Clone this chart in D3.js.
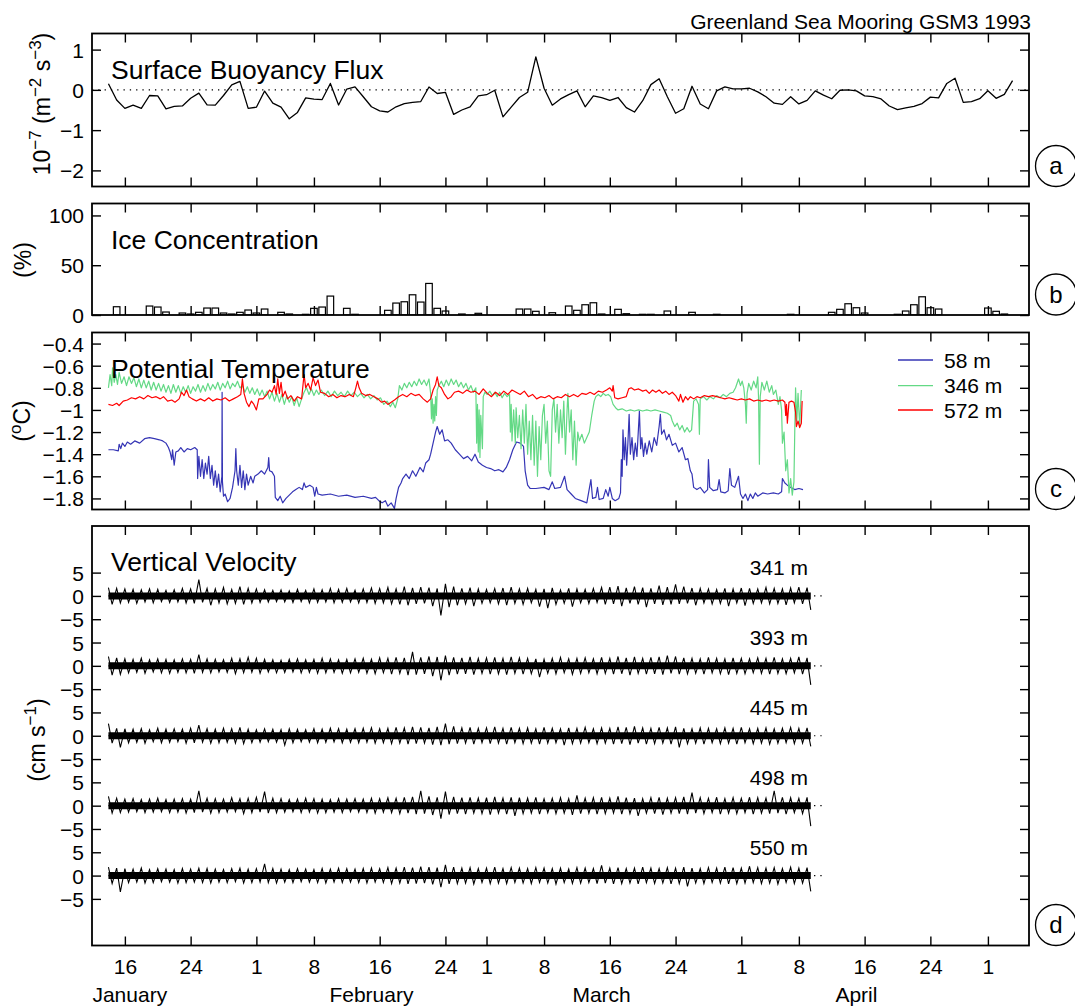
<!DOCTYPE html>
<html><head><meta charset="utf-8">
<script src="https://cdn.jsdelivr.net/npm/d3@7"></script>
<style>
body{margin:0;background:#fff}
svg{display:block}
text{font-family:"Liberation Sans",Arial,Helvetica,sans-serif;fill:#000}
</style>
</head><body>
<svg id="chart" width="1075" height="1007"></svg>
<script>
// ---------------- DATA ----------------
const xDomain = [12, 126]; // day of year 1993
const tickDays = [16, 24, 32, 39, 47, 55, 60, 67, 75, 83, 91, 98, 106, 114, 121];
const tickLabels = ["16","24","1","8","16","24","1","8","16","24","1","8","16","24","1"];
const monthNames = ["January", "February", "March", "April"];
const monthDays = [16.6, 46, 74, 105];

// (a) Surface buoyancy flux, daily, 10^-7 m^2 s^-3, starting day 14
const fluxStartDay = 14;
const buoyancyFlux = [0.15,-0.25,-0.46,-0.38,-0.46,-0.14,-0.15,-0.47,-0.41,-0.40,
 -0.21,-0.08,-0.375,-0.38,-0.14,0.125,0.21,-0.46,-0.43,-0.03,
 -0.33,-0.43,-0.72,-0.56,-0.20,-0.23,-0.24,0.16,-0.375,0.02,
 0.075,-0.17,-0.42,-0.52,-0.55,-0.42,-0.34,-0.31,-0.29,0.07,
 -0.09,-0.06,-0.61,-0.50,-0.42,-0.15,-0.12,-0.01,-0.67,-0.43,
 -0.19,-0.06,0.82,0.04,-0.38,-0.225,-0.12,-0.025,-0.42,-0.15,
 -0.19,-0.26,-0.19,-0.44,-0.55,-0.27,0.13,0.275,-0.17,-0.58,
 -0.47,0.09,-0.35,-0.47,-0.025,0.075,0.025,0.025,0.04,-0.05,
 -0.17,-0.33,-0.36,-0.17,-0.35,-0.26,-0.025,-0.13,-0.22,-0.01,
 0.0,-0.025,-0.15,-0.17,-0.225,-0.40,-0.49,-0.45,-0.41,-0.34,
 -0.18,-0.20,0.16,0.29,-0.31,-0.29,-0.22,-0.02,-0.21,-0.11,0.23];
const fluxTicks = [1, 0, -1, -2];

// (b) Ice concentration (%)
const iceDays = [15,19,20,21,23,24,25,26,27,28,29,30,31,32,33,35,36,38,39,40,
 41,43,44,48,49,50,51,52,53,54,55,57,59,64,65,66,68,70,71,72,
 73,74,76,77,79,80,82,85,88,97,102,103,104,105,106,110,111,112,113,114,
 115,121,122,123];
const iceValues = [8.3,9,8,3,2,1,2.7,7,7,2,1,2.7,5,2,6,2.7,1,0.7,6.7,8,
 19,6.7,0.7,4.7,12,13.3,20.3,13,31.7,6.7,4,1,1.7,6,6,3.7,2.3,9,4.7,10.3,
 12.3,1,5.7,1.3,0.7,0.7,4,2.7,0.7,0.7,2.7,5.7,11.3,7.3,2,0.7,4,10.3,18.3,7.3,
 6,7,3.7,1];
const iceTicks = [0, 50, 100];

// (c) Potential temperature (deg C), [day, value]
const temp58 = [[14.0,-1.36],[14.6,-1.36],[15.2,-1.37],[15.3,-1.31],[15.5,-1.35],[15.7,-1.30],[16.0,-1.33],[16.3,-1.29],[16.7,-1.31],[17.2,-1.28],[17.8,-1.30],[18.4,-1.26],[19.0,-1.25],[19.6,-1.26],[20.2,-1.27],[20.6,-1.28],[21.0,-1.30],[21.3,-1.34],[21.5,-1.38],[21.7,-1.45],[21.8,-1.36],[22.0,-1.50],[22.2,-1.38],[22.5,-1.37],[22.8,-1.34],[23.2,-1.38],[23.6,-1.35],[24.0,-1.36],[24.5,-1.34],[24.8,-1.36],[24.85,-1.62],[25.0,-1.42],[25.2,-1.60],[25.4,-1.45],[25.6,-1.62],[25.8,-1.48],[26.0,-1.58],[26.2,-1.42],[26.4,-1.62],[26.6,-1.50],[26.8,-1.68],[27.0,-1.55],[27.2,-1.70],[27.4,-1.58],[27.6,-1.74],[27.8,-1.60],[27.83,-0.84],[27.87,-1.65],[28.0,-1.78],[28.2,-1.76],[28.5,-1.83],[28.8,-1.80],[29.1,-1.70],[29.4,-1.55],[29.5,-1.35],[29.6,-1.55],[29.8,-1.68],[30.0,-1.50],[30.2,-1.70],[30.4,-1.55],[30.6,-1.72],[30.8,-1.58],[31.0,-1.68],[31.3,-1.60],[31.6,-1.66],[31.8,-1.60],[32.2,-1.58],[32.6,-1.55],[33.0,-1.58],[33.4,-1.52],[33.5,-1.43],[33.6,-1.55],[33.9,-1.56],[34.2,-1.60],[34.3,-1.79],[34.6,-1.82],[34.9,-1.78],[35.2,-1.84],[35.6,-1.80],[36.0,-1.77],[36.4,-1.74],[36.8,-1.72],[37.2,-1.70],[37.6,-1.72],[37.8,-1.66],[38.0,-1.70],[38.5,-1.68],[38.9,-1.70],[39.1,-1.78],[39.3,-1.70],[39.5,-1.76],[40.0,-1.77],[41.0,-1.76],[42.0,-1.78],[43.0,-1.77],[44.0,-1.79],[45.0,-1.78],[46.0,-1.80],[46.5,-1.79],[46.9,-1.82],[47.3,-1.84],[47.7,-1.82],[48.0,-1.87],[48.4,-1.84],[48.8,-1.89],[49.0,-1.80],[49.3,-1.70],[49.6,-1.66],[49.8,-1.62],[50.2,-1.58],[50.6,-1.62],[51.0,-1.55],[51.4,-1.60],[51.9,-1.52],[52.3,-1.56],[52.6,-1.48],[53.0,-1.45],[53.2,-1.40],[53.5,-1.30],[53.8,-1.20],[54.0,-1.15],[54.3,-1.22],[54.6,-1.18],[54.9,-1.28],[55.3,-1.27],[55.7,-1.30],[56.2,-1.36],[56.7,-1.40],[57.2,-1.44],[57.7,-1.42],[58.2,-1.46],[58.6,-1.40],[59.0,-1.47],[59.5,-1.50],[60.0,-1.52],[60.5,-1.53],[61.0,-1.55],[61.5,-1.54],[62.0,-1.56],[62.4,-1.52],[62.8,-1.45],[63.2,-1.36],[63.65,-1.29],[64.1,-1.30],[64.5,-1.33],[64.7,-1.55],[65.0,-1.68],[65.3,-1.71],[66.0,-1.71],[67.0,-1.70],[67.6,-1.72],[68.0,-1.65],[68.3,-1.71],[69.0,-1.70],[69.5,-1.60],[69.8,-1.72],[70.3,-1.76],[70.8,-1.80],[71.5,-1.82],[72.2,-1.84],[72.7,-1.63],[72.9,-1.80],[73.3,-1.79],[73.5,-1.70],[73.7,-1.81],[74.2,-1.80],[74.5,-1.72],[74.8,-1.78],[75.0,-1.70],[75.3,-1.80],[75.65,-1.82],[76.1,-1.80],[76.3,-1.75],[76.4,-1.45],[76.5,-1.60],[76.6,-1.18],[76.75,-1.45],[76.9,-1.25],[77.05,-1.50],[77.2,-1.30],[77.35,-1.04],[77.5,-1.40],[77.7,-1.25],[77.9,-1.45],[78.1,-1.30],[78.3,-1.42],[78.6,-1.01],[78.75,-1.35],[78.9,-1.25],[79.1,-1.42],[79.3,-1.30],[79.5,-1.40],[79.8,-1.28],[80.1,-1.38],[80.4,-1.25],[80.7,-1.32],[81.0,-1.15],[81.15,-1.04],[81.3,-1.22],[81.6,-1.18],[81.9,-1.27],[82.2,-1.22],[82.6,-1.32],[83.0,-1.30],[83.4,-1.38],[83.8,-1.34],[84.2,-1.45],[84.5,-1.44],[84.8,-1.55],[85.0,-1.58],[85.2,-1.70],[85.6,-1.72],[86.0,-1.70],[86.5,-1.75],[86.9,-1.72],[87.0,-1.45],[87.15,-1.70],[87.6,-1.73],[88.1,-1.72],[88.3,-1.63],[88.5,-1.74],[89.0,-1.75],[89.4,-1.73],[89.6,-1.53],[89.8,-1.68],[90.2,-1.70],[90.66,-1.60],[90.9,-1.76],[91.2,-1.80],[91.5,-1.76],[91.8,-1.82],[92.1,-1.76],[92.4,-1.80],[92.7,-1.75],[93.0,-1.78],[93.6,-1.75],[94.2,-1.76],[94.9,-1.75],[95.5,-1.76],[95.9,-1.74],[96.0,-1.62],[96.3,-1.66],[96.6,-1.68],[97.0,-1.70],[97.5,-1.72],[98.0,-1.71],[98.5,-1.72]];

const temp346 = [[14.0,-0.80],[14.2,-0.68],[14.4,-0.78],[14.5,-0.62],[14.7,-0.75],[14.9,-0.68],[15.1,-0.77],[15.3,-0.66],[15.6,-0.76],[15.9,-0.70],[16.2,-0.78],[16.5,-0.70],[16.8,-0.76],[17.1,-0.71],[17.4,-0.79],[17.7,-0.72],[18.0,-0.80],[18.3,-0.73],[18.6,-0.80],[18.9,-0.74],[19.2,-0.82],[19.5,-0.75],[19.8,-0.82],[20.1,-0.76],[20.4,-0.83],[20.7,-0.77],[21.0,-0.84],[21.3,-0.78],[21.6,-0.85],[21.9,-0.77],[22.2,-0.84],[22.5,-0.78],[22.8,-0.85],[23.1,-0.79],[23.4,-0.84],[23.7,-0.78],[24.0,-0.85],[24.3,-0.79],[24.6,-0.83],[24.9,-0.77],[25.2,-0.84],[25.5,-0.78],[25.8,-0.83],[26.1,-0.76],[26.4,-0.82],[26.7,-0.77],[27.0,-0.81],[27.3,-0.75],[27.6,-0.82],[27.9,-0.76],[28.2,-0.80],[28.5,-0.74],[28.8,-0.81],[29.1,-0.76],[29.4,-0.79],[29.7,-0.74],[30.0,-0.80],[30.3,-0.78],[30.6,-0.84],[30.9,-0.79],[31.2,-0.85],[31.5,-0.80],[31.8,-0.86],[32.1,-0.81],[32.4,-0.87],[32.7,-0.82],[33.0,-0.88],[33.3,-0.83],[33.6,-0.90],[33.9,-0.84],[34.2,-0.92],[34.5,-0.85],[34.8,-0.93],[35.1,-0.86],[35.4,-0.95],[35.7,-0.87],[36.0,-0.93],[36.3,-0.88],[36.6,-0.96],[36.9,-0.89],[37.2,-0.97],[37.5,-0.90],[37.8,-0.84],[38.1,-0.80],[38.4,-0.86],[38.7,-0.81],[39.0,-0.87],[39.3,-0.82],[39.6,-0.86],[39.9,-0.82],[40.3,-0.87],[40.7,-0.83],[41.1,-0.88],[41.5,-0.83],[41.9,-0.87],[42.3,-0.84],[42.7,-0.88],[43.1,-0.83],[43.5,-0.87],[43.9,-0.84],[44.3,-0.88],[44.7,-0.85],[45.1,-0.89],[45.5,-0.86],[45.9,-0.90],[46.3,-0.87],[46.7,-0.91],[47.1,-0.89],[47.5,-0.95],[47.9,-0.92],[48.3,-0.97],[48.6,-0.93],[48.9,-0.98],[49.2,-0.90],[49.4,-0.78],[49.7,-0.82],[50.0,-0.76],[50.3,-0.80],[50.6,-0.75],[50.9,-0.79],[51.2,-0.74],[51.5,-0.78],[51.8,-0.72],[52.1,-0.77],[52.4,-0.73],[52.7,-0.78],[53.0,-0.72],[53.2,-0.85],[53.3,-1.08],[53.4,-0.90],[53.5,-1.12],[53.6,-0.95],[53.7,-1.10],[53.8,-0.88],[53.9,-1.05],[54.0,-0.82],[54.2,-0.78],[54.5,-0.74],[54.8,-0.79],[55.1,-0.73],[55.4,-0.78],[55.7,-0.72],[56.0,-0.77],[56.3,-0.73],[56.6,-0.79],[56.9,-0.75],[57.2,-0.80],[57.5,-0.76],[57.8,-0.82],[58.1,-0.78],[58.4,-0.84],[58.7,-0.80],[58.8,-1.30],[58.9,-0.95],[59.0,-1.38],[59.1,-1.00],[59.2,-1.43],[59.3,-1.05],[59.5,-1.35],[59.6,-0.88],[59.8,-0.84],[60.1,-0.86],[60.4,-0.83],[60.7,-0.87],[61.0,-0.84],[61.3,-0.88],[61.6,-0.84],[61.9,-0.89],[62.2,-0.85],[62.5,-0.88],[62.8,-0.86],[62.9,-1.20],[63.0,-0.95],[63.1,-1.28],[63.3,-1.00],[63.5,-1.30],[63.6,-0.98],[63.8,-1.25],[64.0,-1.05],[64.2,-1.35],[64.4,-1.00],[64.6,-1.30],[64.8,-0.95],[65.0,-1.40],[65.2,-1.10],[65.4,-1.45],[65.6,-1.05],[65.8,-1.50],[66.0,-1.10],[66.2,-1.60],[66.4,-1.15],[66.6,-1.45],[66.8,-1.05],[67.0,-0.95],[67.2,-1.30],[67.4,-1.10],[67.6,-1.55],[67.8,-1.60],[68.0,-1.00],[68.2,-0.90],[68.4,-1.20],[68.6,-0.95],[68.8,-1.30],[69.0,-1.00],[69.2,-1.25],[69.4,-0.92],[69.6,-1.40],[69.8,-1.00],[69.9,-0.85],[70.1,-1.20],[70.3,-1.00],[70.5,-1.45],[70.7,-1.10],[70.9,-1.50],[71.1,-1.20],[71.3,-1.28],[71.6,-1.22],[71.9,-1.30],[72.2,-1.25],[72.5,-1.20],[72.8,-1.05],[73.1,-0.92],[73.3,-0.88],[73.6,-0.86],[73.9,-0.88],[74.2,-0.85],[74.5,-0.87],[74.8,-0.86],[75.1,-0.88],[75.4,-0.95],[75.7,-0.98],[76.0,-1.00],[76.5,-0.99],[77.0,-1.01],[77.5,-1.00],[78.0,-1.01],[78.5,-1.00],[79.0,-1.01],[79.5,-1.00],[80.0,-1.01],[80.5,-1.00],[81.0,-1.01],[81.5,-1.02],[82.0,-1.03],[82.4,-1.05],[82.6,-1.10],[82.9,-1.15],[83.2,-1.12],[83.5,-1.18],[83.8,-1.14],[84.1,-1.20],[84.4,-1.16],[84.7,-1.20],[84.95,-1.18],[85.2,-0.92],[85.5,-0.90],[85.8,-0.95],[85.9,-1.22],[86.0,-0.90],[86.4,-0.88],[86.8,-0.91],[87.2,-0.88],[87.6,-0.90],[88.0,-0.87],[88.4,-0.89],[88.8,-0.86],[89.2,-0.88],[89.6,-0.85],[90.0,-0.84],[90.3,-0.80],[90.66,-0.72],[90.9,-0.78],[91.1,-0.74],[91.3,-0.80],[91.5,-0.95],[91.6,-1.12],[91.7,-0.85],[91.9,-0.76],[92.2,-0.82],[92.5,-0.74],[92.8,-0.80],[93.0,-0.70],[93.1,-0.90],[93.2,-1.49],[93.3,-0.88],[93.5,-0.75],[93.8,-0.82],[94.1,-0.74],[94.4,-0.84],[94.7,-0.78],[94.9,-0.86],[95.2,-0.82],[95.5,-0.95],[95.7,-0.88],[95.9,-1.00],[96.0,-1.30],[96.2,-1.20],[96.4,-1.55],[96.6,-1.45],[96.8,-1.75],[97.0,-1.62],[97.2,-1.77],[97.4,-1.65],[97.5,-1.20],[97.6,-0.80],[97.75,-1.10],[97.9,-0.85],[98.1,-1.15],[98.3,-0.82]];

const temp572 = [[14.0,-0.95],[14.5,-0.96],[15.0,-0.94],[15.3,-0.96],[15.8,-0.92],[16.3,-0.91],[16.8,-0.89],[17.3,-0.90],[17.8,-0.88],[18.3,-0.90],[18.8,-0.87],[19.3,-0.89],[19.8,-0.88],[20.3,-0.90],[20.7,-0.88],[21.2,-0.92],[21.7,-0.91],[22.1,-0.93],[22.6,-0.90],[22.9,-0.84],[23.2,-0.87],[23.5,-0.82],[23.8,-0.88],[24.2,-0.90],[24.7,-0.92],[25.2,-0.90],[25.7,-0.92],[26.2,-0.89],[26.7,-0.92],[27.2,-0.90],[27.7,-0.91],[28.2,-0.89],[28.7,-0.92],[29.2,-0.90],[29.7,-0.88],[30.1,-0.86],[30.3,-0.72],[30.5,-0.85],[30.8,-0.93],[31.1,-0.97],[31.4,-0.92],[31.7,-0.95],[32.0,-1.00],[32.3,-0.90],[32.8,-0.90],[33.3,-0.86],[33.6,-0.82],[33.9,-0.84],[34.2,-0.78],[34.4,-0.86],[34.6,-0.72],[34.8,-0.85],[35.0,-0.75],[35.2,-0.88],[35.5,-0.83],[35.8,-0.90],[36.2,-0.87],[36.6,-0.92],[37.0,-0.88],[37.5,-0.90],[37.8,-0.68],[38.0,-0.80],[38.3,-0.76],[38.6,-0.82],[38.9,-0.71],[39.2,-0.78],[39.5,-0.73],[39.8,-0.84],[40.3,-0.85],[40.8,-0.88],[41.3,-0.86],[41.8,-0.89],[42.3,-0.87],[42.8,-0.88],[43.3,-0.86],[43.8,-0.88],[44.1,-0.80],[44.3,-0.74],[44.5,-0.80],[44.8,-0.85],[45.3,-0.87],[45.8,-0.86],[46.3,-0.88],[46.8,-0.90],[47.2,-0.93],[47.6,-0.92],[48.0,-0.95],[48.4,-0.93],[48.8,-0.91],[49.3,-0.88],[49.8,-0.86],[50.3,-0.88],[50.8,-0.85],[51.3,-0.87],[51.8,-0.86],[52.3,-0.90],[52.8,-0.93],[53.2,-0.90],[53.5,-0.82],[53.8,-0.77],[54.0,-0.70],[54.2,-0.78],[54.5,-0.80],[54.9,-0.86],[55.3,-0.90],[55.7,-0.88],[56.1,-0.84],[56.6,-0.83],[57.1,-0.85],[57.6,-0.82],[58.1,-0.84],[58.6,-0.83],[59.1,-0.86],[59.6,-0.81],[60.1,-0.85],[60.6,-0.88],[61.1,-0.84],[61.6,-0.87],[62.1,-0.83],[62.6,-0.86],[63.1,-0.82],[63.6,-0.84],[64.1,-0.86],[64.6,-0.83],[65.1,-0.88],[65.6,-0.86],[66.1,-0.90],[66.6,-0.88],[67.1,-0.89],[67.6,-0.87],[68.1,-0.90],[68.6,-0.88],[69.1,-0.89],[69.6,-0.86],[70.1,-0.88],[70.6,-0.86],[71.1,-0.88],[71.6,-0.85],[72.1,-0.86],[72.6,-0.84],[73.1,-0.86],[73.6,-0.83],[74.1,-0.84],[74.6,-0.82],[75.0,-0.80],[75.3,-0.83],[75.4,-0.78],[75.6,-0.89],[76.0,-0.90],[76.5,-0.89],[77.0,-0.88],[77.3,-0.81],[77.6,-0.80],[78.0,-0.82],[78.5,-0.81],[79.0,-0.83],[79.4,-0.82],[79.8,-0.85],[80.2,-0.82],[80.6,-0.84],[81.0,-0.82],[81.4,-0.85],[81.8,-0.83],[82.2,-0.86],[82.6,-0.84],[83.0,-0.87],[83.4,-0.92],[83.6,-0.86],[83.9,-0.93],[84.2,-0.88],[84.5,-0.91],[84.8,-0.88],[85.2,-0.90],[85.6,-0.88],[86.0,-0.89],[86.5,-0.87],[87.0,-0.88],[87.5,-0.87],[88.0,-0.88],[88.5,-0.89],[89.0,-0.90],[89.5,-0.89],[90.0,-0.90],[90.5,-0.91],[91.0,-0.90],[91.5,-0.91],[92.0,-0.90],[92.5,-0.92],[93.0,-0.91],[93.5,-0.92],[94.0,-0.91],[94.5,-0.92],[95.0,-0.91],[95.5,-0.92],[96.0,-0.91],[96.3,-0.93],[96.4,-1.05],[96.5,-0.95],[96.6,-1.12],[96.8,-0.93],[97.1,-0.92],[97.4,-0.93],[97.6,-1.02],[97.7,-1.15],[97.9,-1.10],[98.1,-1.16],[98.3,-1.12],[98.4,-0.92]];
const tempNames = ["58 m", "346 m", "572 m"];
const tempColors = ["#3535b5", "#63d985", "#ff0000"];
const tempTicks = [-0.4, -0.6, -0.8, -1, -1.2, -1.4, -1.6, -1.8];

// (d) Vertical velocity (cm/s): daily max / min, days 14..99
const wStartDay = 14;
const wDepths = ["341 m", "393 m", "445 m", "498 m", "550 m"];
const wOffsets = [0, -15, -30, -45, -60];
const wTickRel = [5, 0, -5];
const wCoreHalfWidth = [0.75, 0.75, 0.75, 0.75, 0.75]; // dense core of the trace
const w341Max = [1.8,1.6,1.5,1.4,1.3,1.5,1.4,1.2,1.3,1.6, 1.5,3.5,1.6,1.5,1.8,1.4,2.0,1.6,1.5,1.3, 1.2,1.3,1.1,1.4,1.2,1.5,1.3,1.6,1.4,1.6, 1.2,1.5,1.7,1.6,1.8,1.5,2.0,1.7,1.9,1.8, 1.6,2.6,2.0,1.6,1.8,1.5,1.4,1.6,1.7,1.9, 1.5,1.6,1.4,1.5,1.7,1.3,1.6,1.5,1.4,1.6, 1.8,1.9,2.1,1.7,2.0,1.8,1.6,2.2,1.9,2.5, 2.0,1.7,1.6,1.5,1.4,1.6,1.5,1.7,1.6,1.5, 1.8,1.6,1.5,1.7,1.9,1.8];
const w341Min = [-1.8,-1.5,-1.4,-1.6,-1.3,-1.5,-1.2,-1.4,-1.3,-1.5, -1.6,-1.4,-2.0,-1.5,-1.7,-1.6,-1.8,-1.5,-1.4,-1.3, -1.2,-1.3,-1.4,-1.2,-1.5,-1.4,-1.3,-1.5,-1.4,-1.3, -1.5,-1.4,-1.6,-1.5,-1.7,-1.8,-2.0,-1.7,-1.6,-2.2, -4.2,-2.4,-2.0,-1.7,-2.2,-1.6,-1.5,-1.7,-2.0,-1.6, -1.8,-1.5,-2.3,-2.6,-1.8,-1.6,-2.3,-1.5,-1.6,-1.4, -1.8,-1.7,-2.2,-1.6,-1.8,-2.4,-1.7,-1.9,-1.8,-1.7, -1.6,-2.0,-1.5,-1.7,-1.6,-2.2,-1.5,-2.1,-1.6,-1.5, -1.7,-1.6,-1.9,-1.5,-1.7,-3.0];
const w393Max = [2.0,1.7,1.5,1.4,1.6,1.3,1.5,1.4,1.3,1.5, 1.4,2.4,1.5,1.4,1.3,1.6,1.5,1.8,1.6,1.4, 1.3,1.2,1.4,1.5,1.3,1.4,1.6,1.5,1.3,1.4, 1.5,1.6,1.4,1.7,1.6,1.8,1.7,3.0,1.8,2.0, 1.9,2.2,1.8,1.7,1.9,1.6,1.7,1.8,1.6,1.9, 1.7,1.6,1.5,1.4,1.6,1.8,1.5,1.6,1.7,1.5, 1.8,1.6,2.0,1.7,1.9,1.6,1.8,1.9,2.2,2.0, 1.7,1.6,1.5,1.8,1.6,1.5,1.7,1.6,1.5,1.7, 1.6,1.8,1.5,1.6,1.9,1.7];
const w393Min = [-2.0,-1.8,-1.5,-1.4,-1.6,-1.3,-1.5,-1.6,-1.4,-1.5, -1.6,-1.4,-1.5,-1.3,-1.4,-1.7,-1.5,-1.4,-1.6,-1.3, -1.5,-1.4,-1.3,-1.5,-1.4,-1.6,-1.5,-1.4,-1.6,-1.5, -1.4,-1.6,-1.7,-1.5,-1.8,-1.6,-2.0,-1.9,-1.7,-2.2, -3.1,-2.0,-1.8,-1.7,-1.9,-1.6,-1.8,-1.7,-1.9,-1.6, -1.8,-1.7,-2.4,-1.6,-1.7,-1.5,-1.8,-1.6,-1.5,-1.7, -1.6,-1.8,-1.7,-2.0,-1.6,-1.8,-1.7,-1.9,-1.6,-1.8, -1.7,-1.6,-1.8,-1.5,-1.7,-1.9,-1.6,-1.7,-1.5,-1.6, -1.8,-1.6,-1.7,-1.5,-1.8,-4.1];
const w445Max = [2.6,1.6,1.5,1.4,1.5,1.3,1.6,1.4,1.5,1.4, 1.6,2.3,1.5,1.4,1.6,1.5,1.8,1.4,1.3,1.5, 1.4,1.3,1.5,1.4,1.3,1.5,1.4,1.6,1.5,1.4, 1.5,1.6,1.7,1.5,1.6,1.8,1.7,1.9,1.8,1.7, 1.9,2.6,2.0,1.7,1.8,1.6,1.7,1.9,1.6,1.8, 1.6,1.7,1.5,1.8,1.6,1.5,1.7,1.6,1.8,1.5, 1.7,1.6,1.9,1.8,2.0,1.7,1.6,1.8,1.7,1.9, 1.6,1.5,1.7,1.6,1.5,1.7,1.6,1.8,1.5,1.6, 1.7,1.5,1.6,1.8,1.6,1.7];
const w445Min = [-1.6,-2.5,-1.5,-1.4,-1.6,-1.3,-1.5,-1.4,-1.3,-1.6, -1.5,-1.4,-1.6,-1.5,-1.4,-1.6,-1.7,-1.5,-1.4,-1.3, -1.4,-2.0,-1.5,-1.3,-1.4,-1.5,-1.4,-1.3,-1.5,-1.4, -1.5,-1.4,-1.6,-1.5,-1.7,-1.6,-1.8,-1.7,-1.6,-1.9, -2.0,-1.8,-1.7,-1.6,-1.8,-1.5,-1.7,-1.6,-1.8,-1.5, -1.7,-1.6,-1.8,-1.6,-1.5,-2.0,-1.7,-1.6,-1.5,-1.7, -1.6,-1.8,-1.7,-1.9,-1.6,-1.8,-1.7,-1.6,-1.8,-2.5, -1.7,-1.6,-1.8,-1.5,-1.7,-1.6,-1.8,-1.5,-1.7,-1.6, -1.8,-1.6,-1.5,-1.7,-1.6,-2.3];
const w498Max = [2.0,1.6,1.4,1.5,1.3,1.4,1.6,1.3,1.4,1.5, 1.4,3.2,1.6,1.5,1.4,1.7,1.5,1.6,1.8,3.0, 1.6,1.5,1.3,1.4,1.6,1.5,1.4,1.3,1.5,1.4, 1.5,1.4,1.6,1.5,1.7,1.6,1.8,1.9,3.2,2.0, 1.8,3.0,1.9,1.7,1.8,1.6,1.7,1.9,1.6,1.8, 1.7,1.6,1.8,1.5,1.6,1.7,1.5,2.2,1.6,1.7, 1.8,1.6,2.0,1.7,1.6,1.5,1.7,1.8,1.6,1.7, 1.9,2.8,1.7,1.6,1.8,1.5,1.7,1.6,1.8,1.7, 1.6,3.2,1.8,1.7,1.6,1.8];
const w498Min = [-1.6,-1.5,-1.4,-1.3,-1.5,-1.4,-1.3,-1.5,-1.4,-1.6, -1.5,-1.4,-1.6,-1.5,-1.4,-1.3,-1.7,-1.5,-1.4,-1.6, -1.5,-1.4,-1.3,-1.5,-1.4,-1.6,-1.5,-1.4,-1.5,-1.3, -1.4,-1.5,-1.6,-1.4,-1.5,-1.7,-1.6,-1.8,-1.7,-2.0, -2.8,-1.9,-1.7,-1.8,-1.6,-1.7,-1.9,-1.6,-1.8,-2.2, -1.7,-1.6,-1.8,-1.5,-1.7,-1.6,-2.0,-1.7,-1.6,-1.8, -1.7,-1.6,-1.8,-1.7,-2.2,-1.6,-1.7,-1.9,-1.6,-1.7, -1.8,-1.6,-1.7,-1.5,-1.8,-1.6,-1.7,-1.5,-1.8,-1.6, -1.7,-1.6,-1.8,-1.5,-1.7,-4.4];
const w550Max = [1.8,1.6,1.5,1.4,1.6,1.3,1.5,1.4,1.3,1.5, 1.4,1.6,1.5,1.4,1.3,1.5,1.6,1.4,1.5,2.5, 1.5,1.4,1.3,1.5,1.4,1.3,1.5,1.4,1.6,1.5, 1.4,1.5,1.6,1.5,1.7,1.6,1.8,1.7,1.9,1.8, 1.7,2.3,1.8,1.6,1.7,1.5,1.6,1.8,1.5,1.7, 1.6,1.5,1.7,1.6,1.5,1.6,1.4,1.7,1.6,1.5, 2.2,1.6,1.7,1.5,1.6,1.8,1.6,1.5,1.7,1.6, 1.8,1.6,1.5,1.7,1.6,1.8,1.7,1.6,2.0,1.7, 1.6,1.7,1.5,1.8,1.6,1.7];
const w550Min = [-1.7,-3.5,-1.5,-1.4,-1.6,-1.5,-1.3,-1.4,-1.6,-1.5, -1.4,-1.5,-1.6,-1.4,-1.5,-1.3,-1.6,-1.5,-1.4,-1.5, -1.6,-1.4,-1.5,-1.3,-1.4,-1.5,-1.6,-1.4,-1.5,-1.4, -1.5,-1.6,-1.4,-1.5,-1.7,-1.6,-1.8,-1.7,-1.6,-1.9, -2.5,-1.8,-1.7,-1.6,-1.8,-1.5,-1.7,-1.6,-1.7,-1.5, -1.6,-1.7,-1.5,-1.6,-1.8,-1.5,-1.7,-1.6,-1.5,-1.7, -1.6,-1.8,-1.7,-1.6,-1.8,-1.5,-1.7,-1.6,-1.8,-1.7, -2.3,-1.6,-1.7,-1.5,-1.6,-1.8,-1.7,-1.6,-1.5,-1.7, -1.6,-1.8,-1.5,-1.7,-1.6,-3.4];
const wZeroLineEnd = 101;

// ---------------- DRAWING ----------------
const svg = d3.select("#chart");
const X0 = 92, X1 = 1029;
const x = d3.scaleLinear().domain(xDomain).range([X0, X1]);
const minusFmt = v => (v < 0 ? "\u2212" : "") + String(Math.abs(+v.toFixed(2)));
const TICK = 9;
const FONT = '"Liberation Sans", Arial, Helvetica, sans-serif';

const panels = [
  {key:"a", top:33.5, bottom:186.5, domain:[-2.4, 1.4], ticks:fluxTicks, fmt:minusFmt, title:"Surface Buoyancy Flux"},
  {key:"b", top:203.5, bottom:315, domain:[0, 112], ticks:iceTicks, fmt:minusFmt, title:"Ice Concentration"},
  {key:"c", top:332.5, bottom:509.5, domain:[-1.9, -0.3], ticks:tempTicks, fmt:minusFmt, title:"Potential Temperature"},
  {key:"d", top:526, bottom:945.5, domain:[-75, 15],
   ticks: wOffsets.flatMap(o => wTickRel.map(r => o + r)),
   fmt: v => minusFmt(v - Math.round(v / 15) * 15), title:"Vertical Velocity"}
];
panels.forEach(p => { p.y = d3.scaleLinear().domain(p.domain).range([p.bottom, p.top]); });

function drawFrame(p, isLast) {
  const g = svg.append("g");
  const la = g.append("g").attr("transform", `translate(${X0},0)`)
    .call(d3.axisLeft(p.y).tickValues(p.ticks).tickFormat(p.fmt).tickSizeInner(-TICK).tickSizeOuter(0).tickPadding(8));
  const ra = g.append("g").attr("transform", `translate(${X1},0)`)
    .call(d3.axisRight(p.y).tickValues(p.ticks).tickFormat("").tickSizeInner(-TICK).tickSizeOuter(0));
  const ta = g.append("g").attr("transform", `translate(0,${p.top})`)
    .call(d3.axisTop(x).tickValues(tickDays).tickFormat("").tickSizeInner(-TICK).tickSizeOuter(0));
  const ba = g.append("g").attr("transform", `translate(0,${p.bottom})`)
    .call(d3.axisBottom(x).tickValues(tickDays).tickFormat((d, i) => isLast ? tickLabels[i] : "")
      .tickSizeInner(-TICK).tickSizeOuter(0).tickPadding(0));
  [la, ra, ta, ba].forEach(a => {
    a.select(".domain").remove();
    a.selectAll(".tick line").attr("stroke", "#000").attr("stroke-width", 1.4);
    a.selectAll("text").attr("font-size", 21).attr("fill", "#000").style("font-family", FONT);
  });
  la.selectAll("text").attr("x", -8).attr("dy", null).attr("y", 7.5);
  ba.selectAll("text").attr("dy", null).attr("y", 974 - p.bottom);
  g.append("rect").attr("x", X0).attr("y", p.top).attr("width", X1 - X0).attr("height", p.bottom - p.top)
    .attr("fill", "none").attr("stroke", "#000").attr("stroke-width", 1.8);
  g.append("text").attr("x", 111).attr("y", p.top + 45).attr("font-size", 26.5).text(p.title);
  const cy = p.bottom - 20.5;
  g.append("circle").attr("cx", 1056).attr("cy", cy).attr("r", 20.5)
    .attr("fill", "#fff").attr("stroke", "#000").attr("stroke-width", 1.3);
  g.append("text").attr("x", 1056).attr("y", cy + 8).attr("font-size", 24)
    .attr("text-anchor", "middle").text(p.key);
}

const defs = svg.append("defs");
panels.forEach(p => {
  defs.append("clipPath").attr("id", "clip-" + p.key)
    .append("rect").attr("x", X0).attr("y", p.top).attr("width", X1 - X0).attr("height", p.bottom - p.top);
});

// ---- panel a ----
{
  const p = panels[0];
  const g = svg.append("g").attr("clip-path", "url(#clip-a)");
  g.append("line").attr("x1", X0).attr("x2", X1).attr("y1", p.y(0)).attr("y2", p.y(0))
    .attr("stroke", "#000").attr("stroke-width", 1.2).attr("stroke-dasharray", "1.3,5");
  const line = d3.line().x((d, i) => x(fluxStartDay + i)).y(d => p.y(d));
  g.append("path").datum(buoyancyFlux).attr("d", line)
    .attr("fill", "none").attr("stroke", "#000").attr("stroke-width", 1.3).attr("stroke-linejoin", "round");
}

// ---- panel b ----
{
  const p = panels[1];
  const g = svg.append("g").attr("clip-path", "url(#clip-b)");
  const bw = 0.8;
  g.selectAll("rect.bar").data(iceDays.map((d, i) => ({d, v: iceValues[i]}))).join("rect")
    .attr("class", "bar")
    .attr("x", o => x(o.d - bw / 2)).attr("width", x(bw) - x(0))
    .attr("y", o => p.y(o.v)).attr("height", o => p.y(0) - p.y(o.v))
    .attr("fill", "#fff").attr("stroke", "#000").attr("stroke-width", 1.2);
}

// ---- panel c ----
{
  const p = panels[2];
  const g = svg.append("g").attr("clip-path", "url(#clip-c)");
  const line = d3.line().x(d => x(d[0])).y(d => p.y(d[1]));
  [temp58, temp346, temp572].forEach((s, i) => {
    g.append("path").datum(s).attr("d", line).attr("fill", "none")
      .attr("stroke", tempColors[i]).attr("stroke-width", 1.2).attr("stroke-linejoin", "round");
  });
  const rows = [360, 385.7, 410];
  tempNames.forEach((n, i) => {
    svg.append("line").attr("x1", 898).attr("x2", 933).attr("y1", rows[i]).attr("y2", rows[i])
      .attr("stroke", tempColors[i]).attr("stroke-width", 1.3);
    svg.append("text").attr("x", 944).attr("y", rows[i] + 7.5).attr("font-size", 21).text(n);
  });
}

// ---- panel d ----
{
  const p = panels[3];
  const g = svg.append("g").attr("clip-path", "url(#clip-d)");
  const maxes = [w341Max, w393Max, w445Max, w498Max, w550Max];
  const mins = [w341Min, w393Min, w445Min, w498Min, w550Min];
  wOffsets.forEach((off, k) => {
    const n = maxes[k].length;
    g.append("line").attr("x1", x(wStartDay)).attr("x2", x(wZeroLineEnd))
      .attr("y1", p.y(off)).attr("y2", p.y(off))
      .attr("stroke", "#000").attr("stroke-width", 1.2).attr("stroke-dasharray", "1.3,5");
    // dense core of the trace
    const c = wCoreHalfWidth[k];
    g.append("path").datum([[wStartDay, off], [wStartDay + n - 1 + 0.45, off]])
      .attr("d", d3.area().x(d => x(d[0])).y0(d => p.y(d[1] - c)).y1(d => p.y(d[1] + c)))
      .attr("fill", "#000");
    const pts = [];
    maxes[k].forEach((mx, i) => {
      pts.push([wStartDay + i, mx + off]);
      pts.push([wStartDay + i + 0.45, mins[k][i] + off]);
    });
    g.append("path").datum(pts)
      .attr("d", d3.line().x(d => x(d[0])).y(d => p.y(d[1])))
      .attr("fill", "none").attr("stroke", "#000").attr("stroke-width", 1.1).attr("stroke-linejoin", "miter");
    svg.append("text").attr("x", 808).attr("y", p.y(off + 6) + 7.5)
      .attr("font-size", 21).attr("text-anchor", "end").text(wDepths[k]);
  });
}

panels.forEach((p, i) => drawFrame(p, i === panels.length - 1));

monthNames.forEach((m, i) => {
  svg.append("text").attr("x", x(monthDays[i])).attr("y", 1001.7)
    .attr("font-size", 21).attr("text-anchor", "middle").text(m);
});

svg.append("text").attr("x", 1031).attr("y", 29.3).attr("font-size", 21)
  .attr("text-anchor", "end").text("Greenland Sea Mooring GSM3 1993");

// rotated y-axis labels with superscripts
function ylab(xp, yp, parts) {
  const t = svg.append("text").attr("transform", `translate(${xp},${yp}) rotate(-90)`)
    .attr("text-anchor", "middle").attr("font-size", 23);
  let up = false;
  parts.forEach(([s, sup]) => {
    const ts = t.append("tspan").text(s);
    if (sup) { ts.attr("dy", -9).attr("font-size", 17); up = true; }
    else if (up) { ts.attr("dy", 9); up = false; }
  });
}
ylab(50, 104, [["10", false], ["\u22127", true], [" (m", false], ["\u22122", true], [" s", false], ["\u22123", true], [")", false]]);
ylab(30.5, 260, [["(%)", false]]);
ylab(30, 421, [["(", false], ["o", true], ["C)", false]]);
ylab(45, 740, [["(cm s", false], ["\u22121", true], [")", false]]);
</script>
</body></html>
